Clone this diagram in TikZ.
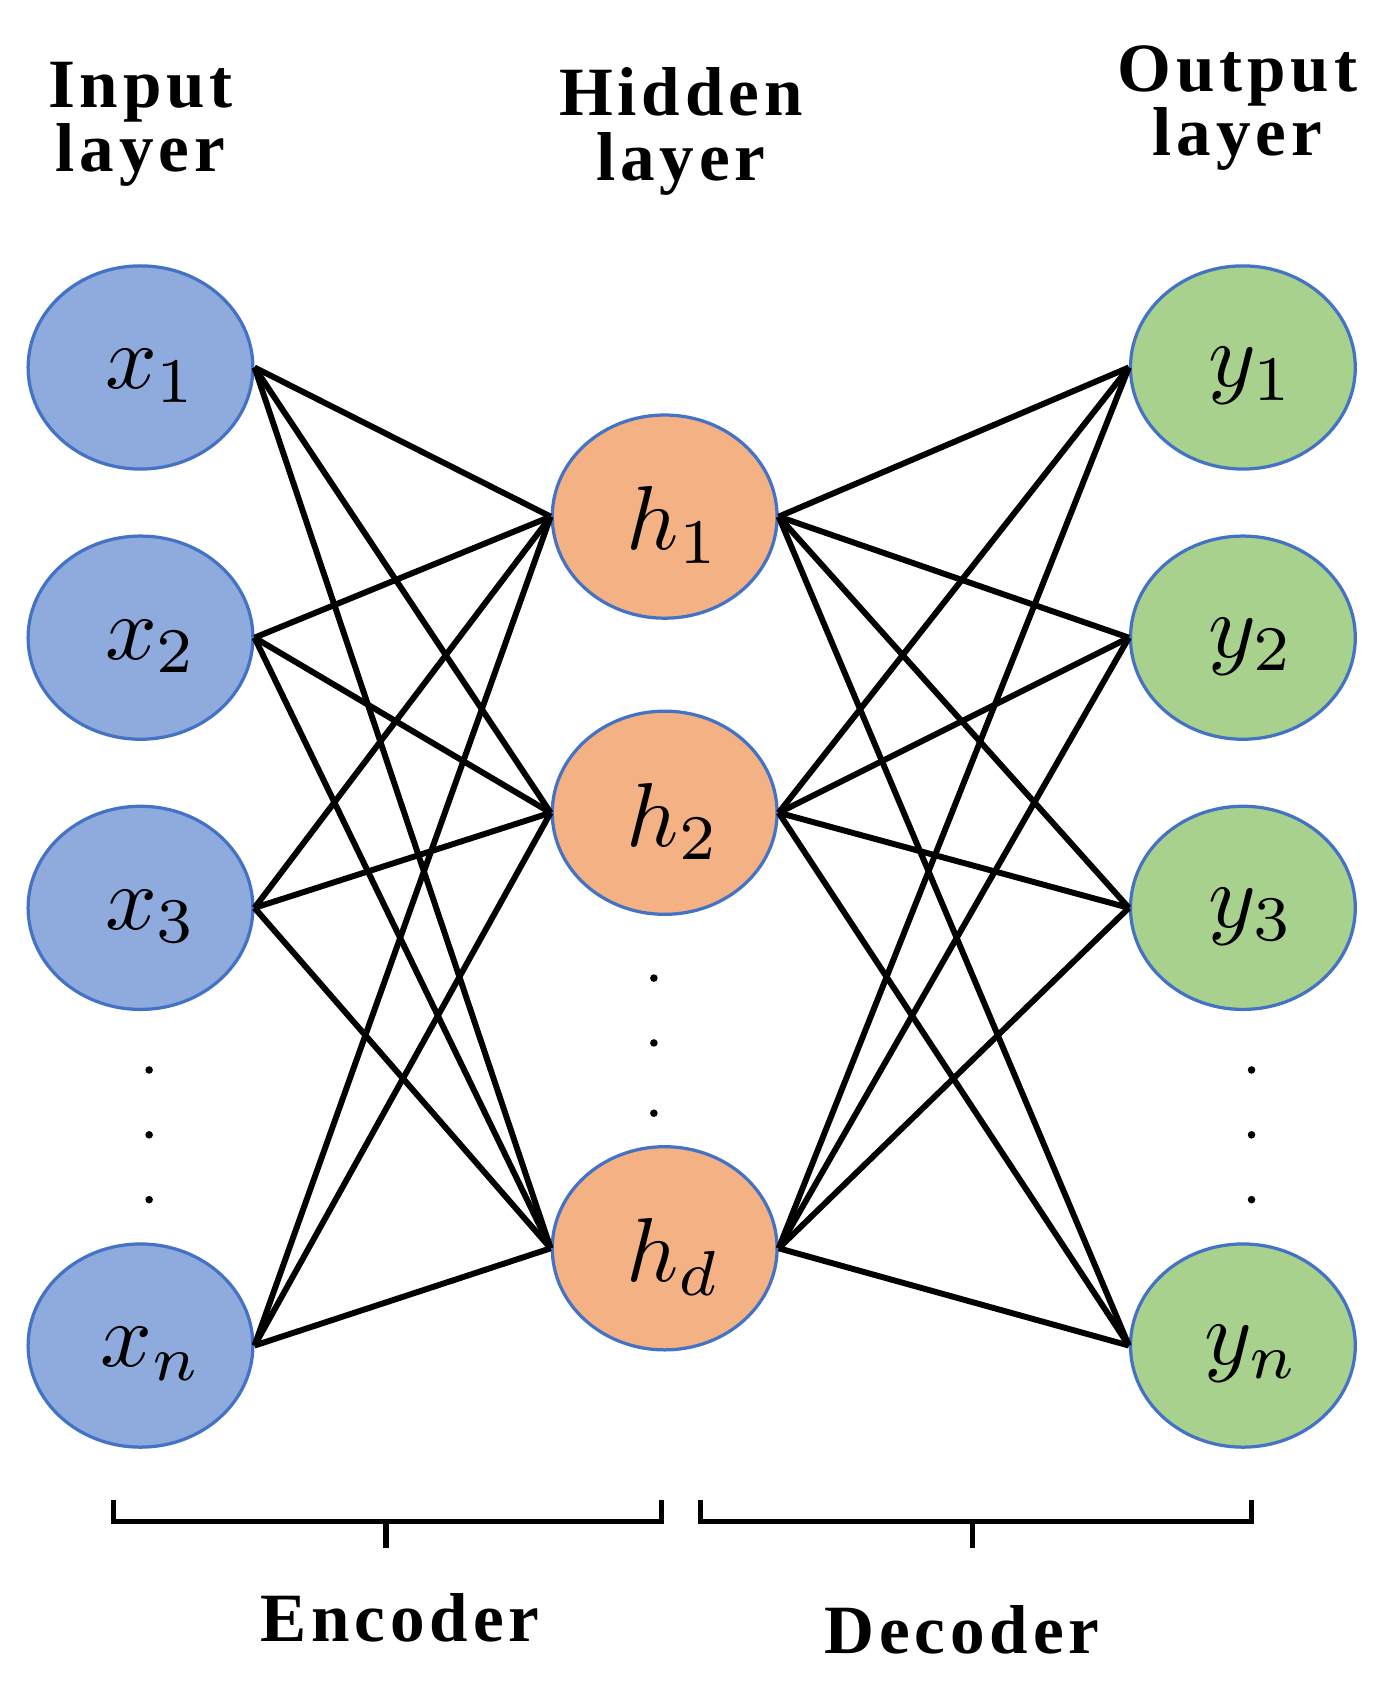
\documentclass[tikz,border=0pt]{standalone}
\usepackage{fontspec}
\setmainfont{Liberation Serif}
\usetikzlibrary{shapes.geometric}
\definecolor{bl}{HTML}{8FAADC}
\definecolor{or}{HTML}{F4B183}
\definecolor{gr}{HTML}{A9D18E}
\definecolor{edge}{HTML}{4472C4}
\newcommand{\mlab}[1]{\scalebox{8.4}{$#1$}}
\begin{document}
\begin{tikzpicture}[x=1pt,y=-1pt,
  neur/.style={ellipse,draw=edge,line width=3pt,minimum width=208pt,minimum height=188pt,inner sep=0pt,text depth=0pt,text height=0pt},
  lnk/.style={line width=5.5pt,black},
  ttl/.style={font=\bfseries\fontsize{64}{66}\selectfont\addfontfeatures{LetterSpace=7},align=center},
  dot/.style={circle,fill=black,inner sep=0pt,minimum size=7pt}]
\useasboundingbox (0,0) rectangle (1290,1560);
\node[ttl] (ti) at (130,115) {Input\\[-6pt]layer};
\node[ttl] (th) at (630,122) {Hidden\\[-6pt]layer};
\node[ttl] (to) at (1145,100) {Output\\[-6pt]layer};
\foreach \n/\y/\l in {1/340/1,2/590/2,3/840/3,n/1245/n}{
  \node[neur,fill=bl] (x\n) at (130,\y) {};
  \node (lx\n) at ([xshift=10pt,yshift=-8pt]x\n.center) {\mlab{x_{\l}}};
  \node[neur,fill=gr] (y\n) at (1150,\y) {};
  \node (ly\n) at ([xshift=8pt,yshift=-8pt]y\n.center) {\mlab{y_{\l}}};}
\foreach \n/\y/\l in {1/478/1,2/752/2,d/1155/d}{
  \node[neur,fill=or] (h\n) at (615,\y) {};
  \node (lh\n) at ([xshift=8pt,yshift=-8pt]h\n.center) {\mlab{h_{\l}}};}
\foreach \a in {1,2,3,n}\foreach \b in {1,2,d}{
  \draw[lnk] (x\a.east) -- (h\b.west);
  \draw[lnk] (h\b.east) -- (y\a.west);}
\foreach \y [count=\i] in {990,1050,1110}{
  \node[dot] (dx\i) at (138,\y) {};
  \node[dot] (dy\i) at (1158,\y) {};}
\foreach \y [count=\i] in {905,965,1030} \node[dot] (dh\i) at (605,\y) {};
\draw[line width=5pt] (105,1388) -- (105,1408) -- (612,1408) -- (612,1388);
\draw[line width=5pt] (357,1408) -- (357,1432);
\draw[line width=5pt] (648,1388) -- (648,1408) -- (1158,1408) -- (1158,1388);
\draw[line width=5pt] (900,1408) -- (900,1432);
\node[ttl] (enc) at (370,1497) {Encoder};
\node[ttl] (dec) at (890,1508) {Decoder};
\end{tikzpicture}
\end{document}
